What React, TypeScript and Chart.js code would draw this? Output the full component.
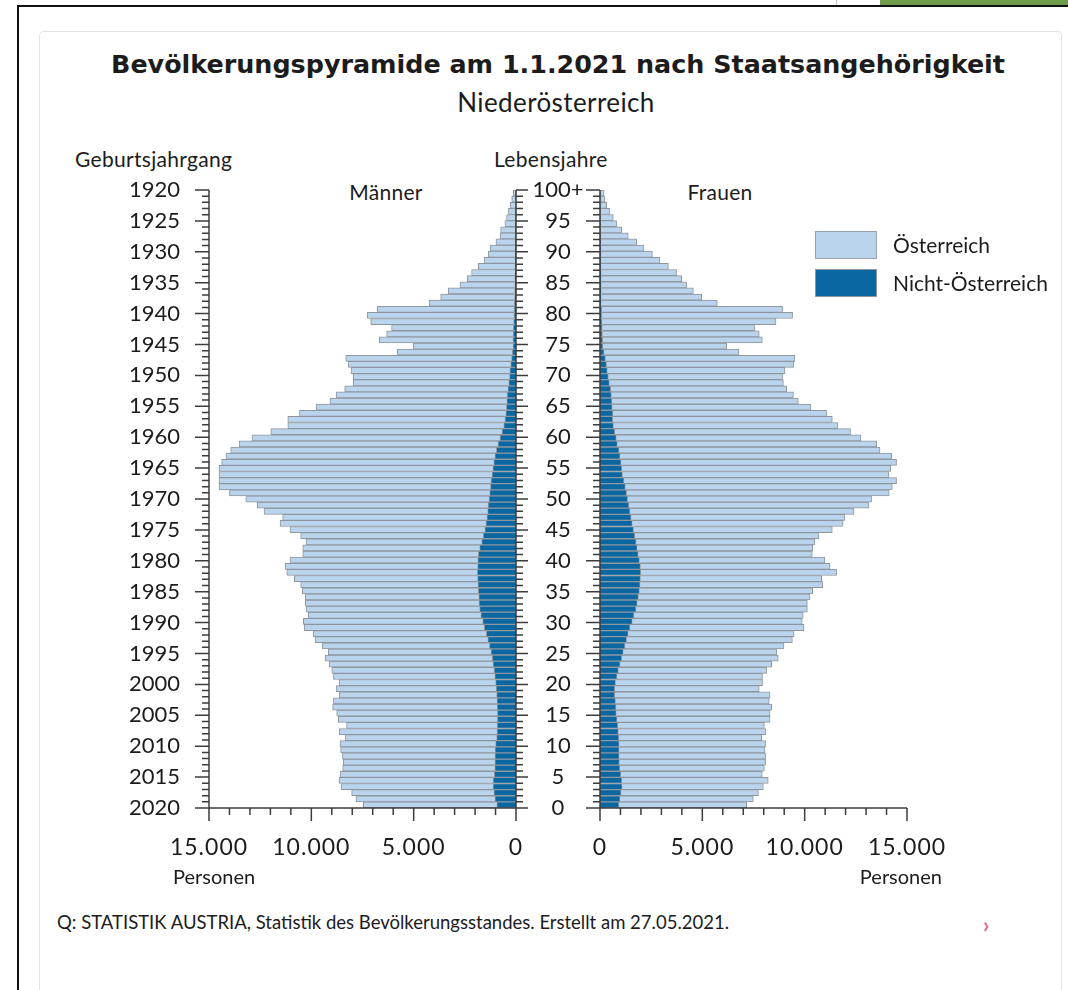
import React, { useEffect, useRef } from "react";
import { Chart, registerables } from "chart.js";

Chart.register(...registerables);

// ---------- data (persons, index = age 0 .. 100+) ----------
const AGES = Array.from({ length: 101 }, (_, i) => (i === 100 ? "100+" : String(i)));

const MEN_TOTAL = [
  7460, 7820, 8030, 8550, 8630, 8600, 8470, 8440, 8480, 8570,
  8600, 8350, 8630, 8280, 8680, 8760, 8960, 8920, 8630, 8790,
  8640, 8920, 9000, 9130, 9330, 9170, 9460, 9820, 9900, 10340,
  10390, 10150, 10260, 10300, 10300, 10450, 10520, 10830, 11200, 11280,
  11040, 10420, 10420, 10260, 10520, 11040, 11530, 11400, 12310, 12640,
  13200, 14000, 14510, 14510, 14510, 14510, 14380, 14170, 13940, 13530,
  12900, 11980, 11150, 11150, 10580, 9770, 9090, 8790, 8370, 7950,
  7950, 8060, 8190, 8320, 5800, 5020, 6680, 6320, 6080, 7100,
  7270, 6780, 4240, 3680, 3310, 2740, 2380, 2170, 1840, 1560,
  1350, 1270, 980, 780, 750, 540, 460, 370, 290, 210,
  130,
];

const MEN_FOREIGN = [
  940, 1030, 1080, 1120, 1120, 1060, 1040, 1030, 1030, 1020,
  1000, 950, 930, 920, 910, 910, 920, 930, 950, 970,
  1000, 1040, 1070, 1120, 1160, 1220, 1300, 1380, 1450, 1550,
  1630, 1720, 1780, 1810, 1820, 1840, 1860, 1880, 1890, 1880,
  1870, 1840, 1780, 1680, 1600, 1520, 1470, 1420, 1390, 1360,
  1320, 1290, 1250, 1220, 1170, 1130, 1090, 1030, 960, 880,
  780, 680, 600, 540, 500, 470, 450, 430, 400, 360,
  320, 300, 260, 220, 180, 150, 150, 140, 130, 120,
  100, 90, 80, 70, 70, 60, 60, 50, 50, 40,
  40, 30, 30, 30, 30, 30, 20, 20, 10, 10,
  10,
];

const WOMEN_TOTAL = [
  7170, 7490, 7740, 7980, 8220, 7930, 8030, 8090, 8090, 8060,
  8090, 7900, 8090, 8030, 8310, 8310, 8390, 8270, 8310, 7780,
  7940, 7940, 8140, 8390, 8710, 8630, 8990, 9400, 9480, 9970,
  9880, 9930, 10130, 10130, 10260, 10390, 10880, 10830, 11560, 11240,
  10990, 10370, 10390, 10500, 10700, 11350, 11880, 11970, 12410, 13140,
  13270, 14130, 14280, 14490, 14120, 14210, 14490, 14250, 13680, 13520,
  12750, 12240, 11610, 11350, 11070, 10290, 9690, 9450, 9120, 8960,
  8920, 9040, 9470, 9520, 6790, 6190, 7930, 7780, 7570, 8600,
  9410, 8920, 5730, 4970, 4560, 4230, 3990, 3740, 3340, 2930,
  2560, 2150, 1790, 1380, 1060, 810, 650, 490, 330, 240,
  200,
];

const WOMEN_FOREIGN = [
  930, 980, 1030, 1080, 1060, 1020, 970, 950, 940, 940,
  940, 920, 900, 870, 830, 800, 780, 760, 720, 720,
  760, 830, 900, 980, 1060, 1140, 1220, 1300, 1380, 1460,
  1580, 1660, 1760, 1820, 1880, 1930, 1960, 1980, 1990, 1980,
  1930, 1870, 1820, 1760, 1700, 1640, 1580, 1520, 1460, 1410,
  1350, 1300, 1240, 1170, 1100, 1060, 1030, 980, 930, 850,
  800, 720, 660, 620, 630, 600, 580, 560, 520, 460,
  410, 360, 320, 270, 200, 140, 130, 120, 110, 90,
  80, 80, 60, 60, 60, 60, 50, 50, 40, 40,
  40, 30, 30, 30, 20, 20, 20, 10, 10, 10,
  10,
];

// tick labels
const TICK_AGES = [0, 5, 10, 15, 20, 25, 30, 35, 40, 45, 50, 55, 60, 65, 70, 75, 80, 85, 90, 95, 100];
const YEAR_LABELS = ["2020", "2015", "2010", "2005", "2000", "1995", "1990", "1985", "1980", "1975", "1970", "1965", "1960", "1955", "1950", "1945", "1940", "1935", "1930", "1925", "1920"];
const AGE_LABELS = ["0", "5", "10", "15", "20", "25", "30", "35", "40", "45", "50", "55", "60", "65", "70", "75", "80", "85", "90", "95", "100+"];
const X_TICKS = [0, 5000, 10000, 15000];
const X_LABELS = ["0", "5.000", "10.000", "15.000"];
const X_MINOR_STEP = 1000;

// ---------- styles ----------
const LIGHT = "#b9d4ec";
const DARK = "#0a67a2";
const BAR_BORDER = "#8e969e";
const AXIS = "#3c3c3c";
const TEXT = "#1c1c1c";
const FONT = "Lato, 'Liberation Sans', sans-serif";
const Y_FONT = "22px Lato, 'Liberation Sans', sans-serif";
const X_FONT = "23px Lato, 'Liberation Sans', sans-serif";
const LBL_FONT = "20px Lato, 'Liberation Sans', sans-serif";

type Side = "left" | "right";

function axesPlugin(side: Side) {
  return {
    id: "axes_" + side,
    afterDatasetsDraw(chart: any) {
      const { ctx, chartArea: ca, scales } = chart;
      const yA = scales.yAge;
      const x = scales.x;
      const y0 = yA.getPixelForValue(0);
      const y100 = yA.getPixelForValue(100);
      ctx.save();
      ctx.strokeStyle = AXIS;
      ctx.lineWidth = 1.5;
      ctx.beginPath();
      const verticals: [number, number][] =
        side === "left" ? [[ca.left, -1], [ca.right, 1]] : [[ca.left, -1]];
      for (const [ax, dir] of verticals) {
        ctx.moveTo(ax, y100);
        ctx.lineTo(ax, y0);
        for (let t = 0; t <= 100; t++) {
          const yy = yA.getPixelForValue(t);
          const len = t % 5 === 0 ? 14 : 7;
          ctx.moveTo(ax, yy);
          ctx.lineTo(ax + dir * len, yy);
        }
      }
      // bottom axis
      const xa = x.getPixelForValue(0);
      const xb = x.getPixelForValue(15000);
      ctx.moveTo(Math.min(xa, xb), y0);
      ctx.lineTo(Math.max(xa, xb), y0);
      for (let v = 0; v <= 15000; v += X_MINOR_STEP) {
        const xx = x.getPixelForValue(v);
        const len = v % 5000 === 0 ? 13 : 7;
        ctx.moveTo(xx, y0);
        ctx.lineTo(xx, y0 + len);
      }
      ctx.stroke();

      ctx.fillStyle = TEXT;
      ctx.textBaseline = "middle";
      ctx.font = Y_FONT;
      // y labels
      TICK_AGES.forEach((t, i) => {
        const yy = yA.getPixelForValue(t);
        if (side === "left") {
          ctx.textAlign = "right";
          ctx.fillText(YEAR_LABELS[i], ca.left - 29, yy);
        } else {
          ctx.textAlign = "center";
          ctx.fillText(AGE_LABELS[i], ca.left - 42, yy);
        }
      });
      // x labels
      ctx.font = X_FONT;
      (ctx as any).letterSpacing = "1px";
      ctx.textAlign = "center";
      X_TICKS.forEach((v, i) => {
        ctx.fillText(X_LABELS[i], x.getPixelForValue(v), y0 + 40);
      });
      (ctx as any).letterSpacing = "0px";
      // unit
      ctx.font = LBL_FONT;
      if (side === "left") {
        ctx.textAlign = "left";
        ctx.fillText("Personen", ca.left - 36, y0 + 70);
      } else {
        ctx.textAlign = "right";
        ctx.fillText("Personen", ca.right + 35, y0 + 70);
      }
      ctx.restore();
    },
  };
}

function makeConfig(side: Side, padding: any): any {
  const total = side === "left" ? MEN_TOTAL : WOMEN_TOTAL;
  const foreign = side === "left" ? MEN_FOREIGN : WOMEN_FOREIGN;
  const austrian = total.map((t, i) => t - foreign[i]);
  const common = {
    borderColor: BAR_BORDER,
    borderWidth: 1,
    barPercentage: 1,
    categoryPercentage: 1,
    xAxisID: "x",
    yAxisID: "y",
  };
  return {
    type: "bar",
    data: {
      labels: AGES,
      datasets: [
        { ...common, label: "Nicht-Österreich", data: foreign, backgroundColor: DARK },
        { ...common, label: "Österreich", data: austrian, backgroundColor: LIGHT },
      ],
    },
    options: {
      indexAxis: "y",
      animation: false,
      responsive: true,
      maintainAspectRatio: false,
      events: [],
      layout: { padding },
      plugins: {
        legend: { display: false },
        tooltip: { enabled: false },
        title: { display: false },
      },
      scales: {
        x: { type: "linear", axis: "x", min: 0, max: 15000, reverse: side === "left", stacked: true, display: false, offset: false },
        y: { type: "category", axis: "y", reverse: true, offset: true, stacked: true, display: false },
        yAge: { type: "linear", axis: "y", min: 0, max: 100, display: false, offset: false },
      },
    },
    plugins: [axesPlugin(side)],
  };
}

const abs = (s: React.CSSProperties): React.CSSProperties => ({ position: "absolute", ...s });

function Txt(props: { x: number; cy: number; size: number; children: React.ReactNode; align?: "left" | "center" | "right"; w?: number; weight?: number; family?: string; color?: string; ls?: number }) {
  const { x, cy, size, align = "left", w = 600, weight = 400, family = FONT, color = TEXT, ls = 0 } = props;
  const h = Math.round(size * 1.6);
  const left = align === "left" ? x : align === "center" ? x - w / 2 : x - w;
  return (
    <div
      style={abs({
        left,
        top: cy - h / 2,
        width: w,
        height: h,
        lineHeight: h + "px",
        fontSize: size,
        fontWeight: weight,
        fontFamily: family,
        color,
        textAlign: align,
        whiteSpace: "nowrap",
        letterSpacing: ls,
      })}
    >
      {props.children}
    </div>
  );
}

export default function App() {
  const leftRef = useRef<HTMLCanvasElement>(null);
  const rightRef = useRef<HTMLCanvasElement>(null);

  useEffect(() => {
    const l = new Chart(leftRef.current as HTMLCanvasElement, makeConfig("left", { left: 169, right: 12, top: 60, bottom: 92 }));
    const r = new Chart(rightRef.current as HTMLCanvasElement, makeConfig("right", { left: 72, right: 156, top: 60, bottom: 92 }));
    return () => {
      l.destroy();
      r.destroy();
    };
  }, []);

  return (
    <div style={abs({ left: 0, top: 0, width: 1068, height: 990, overflow: "hidden", background: "#fff", fontFamily: FONT })}>
      {/* page frame */}
      <div style={abs({ left: 880, top: 0, width: 188, height: 5, background: "#6f9c4c" })} />
      <div style={abs({ left: 836, top: 0, width: 1, height: 5, background: "#c4c4c4" })} />
      <div style={abs({ left: 17, top: 5, width: 1051, height: 2, background: "#111" })} />
      <div style={abs({ left: 17, top: 5, width: 2, height: 985, background: "#111" })} />
      <div style={abs({ left: 39, top: 31, width: 1023, height: 980, border: "1px solid #e4e4e4", borderRadius: 4, boxSizing: "border-box" })} />

      {/* titles */}
      <Txt x={558} cy={64} size={25.4} align="center" w={1000} weight={700} family="'DejaVu Sans', sans-serif">
        Bevölkerungspyramide am 1.1.2021 nach Staatsangehörigkeit
      </Txt>
      <Txt x={556} cy={102} size={26} align="center" w={400} ls={0.4}>
        Niederösterreich
      </Txt>
      <Txt x={75} cy={159} size={21} ls={0.3}>Geburtsjahrgang</Txt>
      <Txt x={494} cy={159} size={21} ls={0.3}>Lebensjahre</Txt>
      <Txt x={386} cy={192} size={21} align="center" w={120} ls={0.3}>Männer</Txt>
      <Txt x={720} cy={192} size={21} align="center" w={120} ls={0.3}>Frauen</Txt>

      {/* charts */}
      <div style={abs({ left: 40, top: 130, width: 488, height: 770 })}>
        <canvas ref={leftRef} style={{ display: "block" }} />
      </div>
      <div style={abs({ left: 528, top: 130, width: 535, height: 770 })}>
        <canvas ref={rightRef} style={{ display: "block" }} />
      </div>

      {/* legend */}
      <div style={abs({ left: 815, top: 231, width: 62, height: 28, background: LIGHT, border: "1.5px solid #9aa3ab", boxSizing: "border-box" })} />
      <div style={abs({ left: 815, top: 269, width: 62, height: 28, background: DARK, border: "1.5px solid #8e969e", boxSizing: "border-box" })} />
      <Txt x={893} cy={245} size={21} w={170}>Österreich</Txt>
      <Txt x={893} cy={283} size={21} w={175}>Nicht-Österreich</Txt>

      {/* source */}
      <Txt x={57} cy={922} size={18.5} w={900}>
        Q: STATISTIK AUSTRIA, Statistik des Bevölkerungsstandes. Erstellt am 27.05.2021.
      </Txt>
      <Txt x={983} cy={924} size={22} w={20} weight={700} color="#e36d8c">›</Txt>
    </div>
  );
}
